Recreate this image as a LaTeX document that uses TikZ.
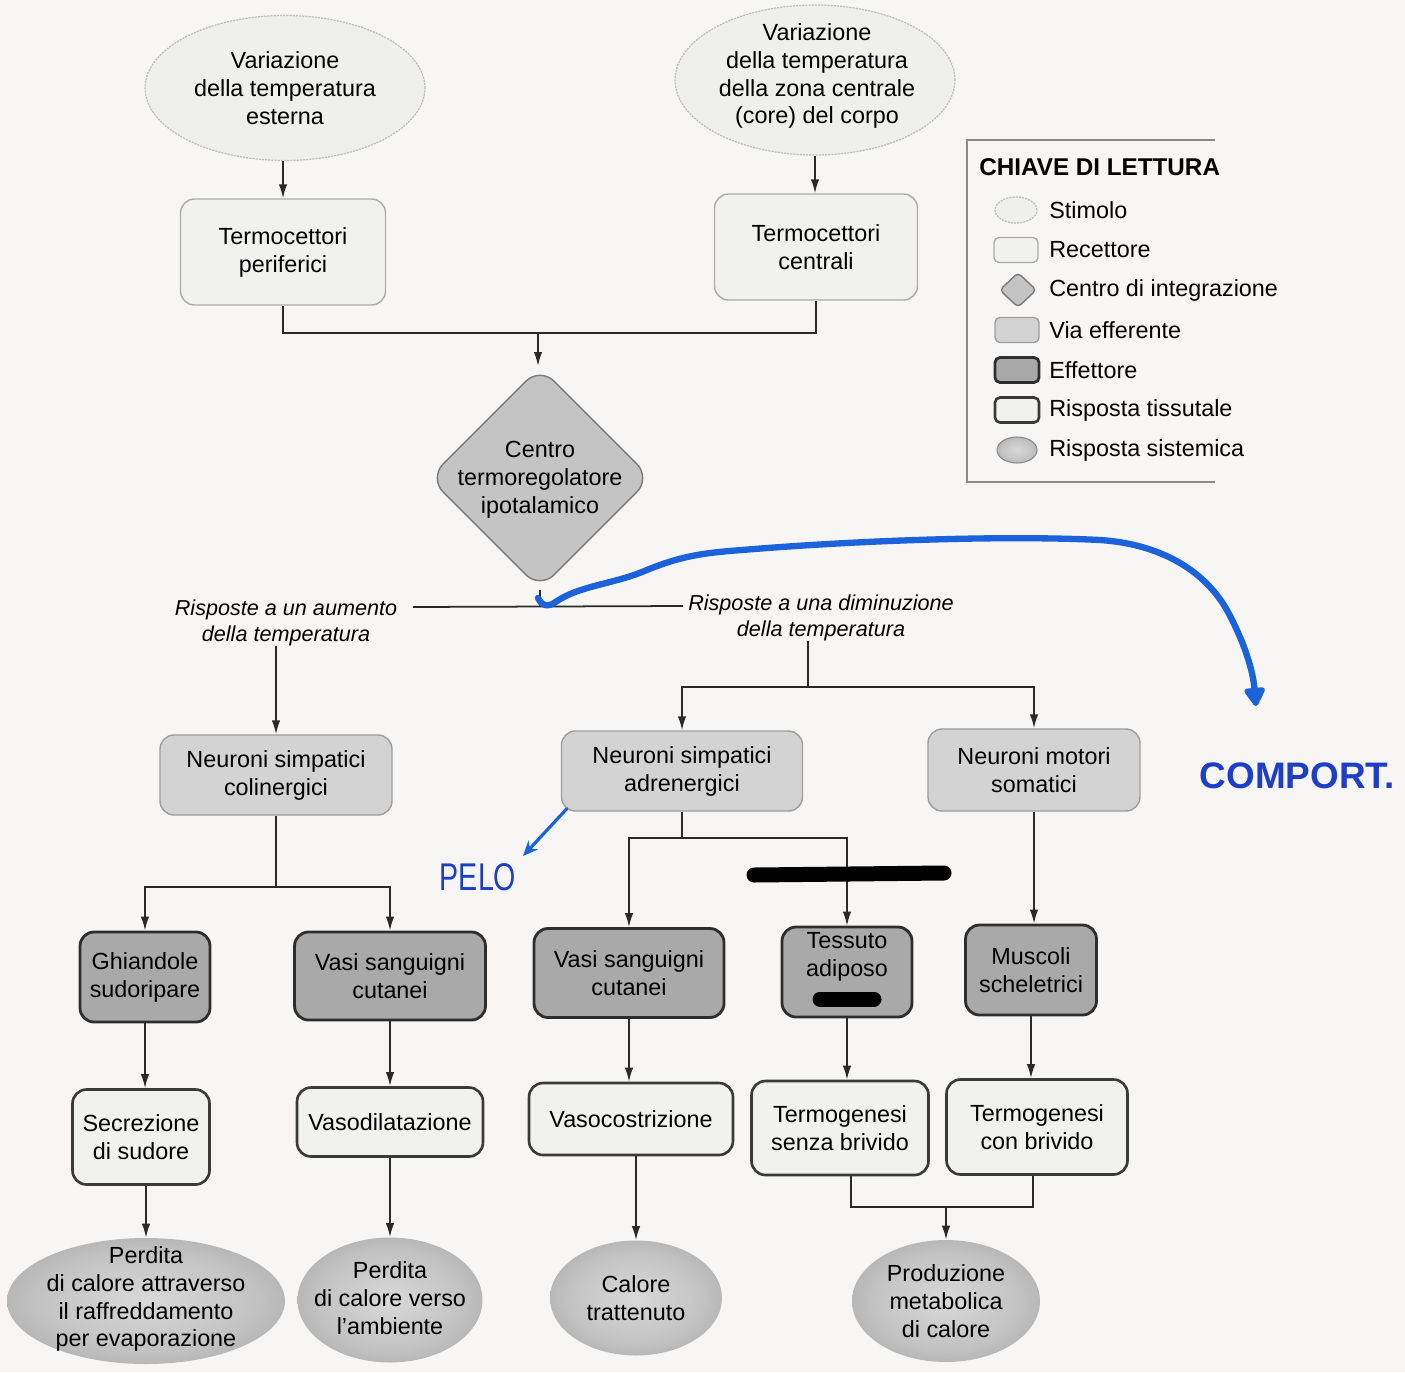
\documentclass[tikz,border=0pt]{standalone}
\usepackage{fontspec}
\setmainfont{Liberation Sans}
\usetikzlibrary{shapes.geometric,arrows.meta}
\definecolor{bgc}{HTML}{F7F6F4}
\definecolor{stimc}{HTML}{BDBDBD}
\definecolor{stimf}{HTML}{EFEFEE}
\definecolor{recc}{HTML}{ABABAB}
\definecolor{recf}{HTML}{F1F1F0}
\definecolor{centc}{HTML}{7A7A7A}
\definecolor{centf}{HTML}{C4C4C4}
\definecolor{viac}{HTML}{9E9E9E}
\definecolor{viaf}{HTML}{D3D3D3}
\definecolor{effc}{HTML}{2E2E2E}
\definecolor{efff}{HTML}{A9A9A9}
\definecolor{tisc}{HTML}{3A3A3A}
\definecolor{tisf}{HTML}{F1F1F0}
\definecolor{linec}{HTML}{2A2A2A}
\definecolor{keyc}{HTML}{8A8A8A}
\definecolor{bluepen}{HTML}{1C62DA}
\definecolor{blueink}{HTML}{1D3FC8}
\pgfdeclareradialshading{sistshade}{\pgfpoint{0bp}{0bp}}{rgb(0bp)=(.85,.85,.85); rgb(20bp)=(.76,.76,.76); rgb(40bp)=(.6,.6,.6); rgb(50bp)=(.48,.48,.48)}
\begin{document}
\begin{tikzpicture}[x=0.02cm,y=-0.02cm,
 font=\fontsize{13.3}{15.9}\selectfont,
 base/.style={align=center,inner sep=0pt,rounded corners=0.28cm},
 stim/.style={ellipse,draw=stimc,fill=stimf,line width=0.7pt,dash pattern=on 1.2pt off 0.6pt,inner sep=0pt},
 rec/.style={base,draw=recc,fill=recf,line width=0.8pt},
 cent/.style={diamond,draw=centc,fill=centf,line width=0.8pt,rounded corners=0.4cm,inner sep=0pt},
 via/.style={base,draw=viac,fill=viaf,line width=0.8pt},
 eff/.style={base,draw=effc,fill=efff,line width=1.6pt},
 tis/.style={base,draw=tisc,fill=tisf,line width=1.5pt},
 sist/.style={ellipse,draw=none,inner sep=0pt,shading=sistshade},
 txt/.style={align=center,inner sep=0pt},
 itl/.style={align=center,inner sep=0pt,font=\fontsize{12.3}{14.5}\selectfont\itshape},
 conn/.style={draw=linec,line width=1pt},
 arr/.style={conn,-{Latex[length=2.8mm,width=1.7mm]}},
 redact/.style={draw=black,line width=0.3cm,line cap=round},
 bluestroke/.style={draw=bluepen,line cap=round,line join=round},
]
\fill[bgc] (0,0) rectangle (1405,1372);
\useasboundingbox (0,0) rectangle (1405,1372);

% stimuli
\node[stim,minimum width=5.6cm,minimum height=2.9cm] (s1) at (285,88) {};
\node[txt] (s1t) at (285,88) {Variazione\\della temperatura\\esterna};
\node[stim,minimum width=5.6cm,minimum height=3.0cm] (s2) at (815,80) {};
\node[txt] (s2t) at (817,76) {Variazione\\della temperatura\\della zona centrale\\(core) del corpo};

% receptors
\node[rec,minimum width=4.1cm,minimum height=2.12cm] (r1) at (283,252) {Termocettori\\periferici};
\node[rec,minimum width=4.06cm,minimum height=2.12cm] (r2) at (816,247) {Termocettori\\centrali};

\draw[arr] (s1.south -| r1.north) -- (r1.north);
\draw[arr] (s2.south) -- (s2.south |- r2.north);

% integration centre
\coordinate (j1) at (538,333);
\draw[conn] (r1.south) |- (j1) -| (r2.south);
\node[cent,minimum width=4.45cm,minimum height=4.45cm] (cen) at (540,478) {};
\node[txt] (cent) at (540,480) {Centro\\termoregolatore\\ipotalamico};
\draw[arr] (j1) -- (j1 |- cen.north);

% split
\coordinate (hc) at (540,607);
\coordinate (hl) at (413,607);
\coordinate (hr) at (683,606);
\draw[conn] (cen.south) -- (hc);
\draw[conn] (hl) -- (hr);
\node[itl] (lbl1) at (286,623) {Risposte a un aumento\\della temperatura};
\node[itl] (lbl2) at (821,618) {Risposte a una diminuzione\\della temperatura};

% efferent pathways
\node[via,minimum width=4.64cm,minimum height=1.6cm] (col) at (276,775) {Neuroni simpatici\\colinergici};
\node[via,minimum width=4.82cm,minimum height=1.6cm] (adr) at (682,771) {Neuroni simpatici\\adrenergici};
\node[via,minimum width=4.24cm,minimum height=1.64cm] (mot) at (1034,770) {Neuroni motori\\somatici};

\draw[arr] (lbl1.south -| col.north) -- (col.north);
\coordinate (j2) at (808,687);
\draw[conn] (lbl2.south -| j2) -- (j2);
\draw[arr] (j2) -| (adr.north);
\draw[arr] (j2) -| (mot.north);

% effectors
\node[eff,minimum width=2.6cm,minimum height=1.8cm] (ghi) at (145,977) {Ghiandole\\sudoripare};
\node[eff,minimum width=3.82cm,minimum height=1.76cm] (vas1) at (390,976) {Vasi sanguigni\\cutanei};
\node[eff,minimum width=3.8cm,minimum height=1.78cm] (vas2) at (629,973) {Vasi sanguigni\\cutanei};
\node[eff,minimum width=2.6cm,minimum height=1.8cm] (tes) at (847,972) {};
\node[txt] (test) at (847,957) {Tessuto\\adiposo};
\node[eff,minimum width=2.62cm,minimum height=1.8cm] (mus) at (1031,970) {Muscoli\\scheletrici};

\coordinate (j3) at (276,887);
\draw[conn] (col.south) -- (j3);
\draw[arr] (j3) -| (ghi.north);
\draw[arr] (j3) -| (vas1.north);
\coordinate (j4) at (682,838);
\draw[conn] (adr.south) -- (j4);
\draw[arr] (j4) -| (vas2.north);
\draw[arr] (j4) -| (tes.north);
\draw[arr] (mot.south) -- (mot.south |- mus.north);

% tissue responses
\node[tis,minimum width=2.74cm,minimum height=1.9cm] (sec) at (141,1137) {Secrezione\\di sudore};
\node[tis,minimum width=3.72cm,minimum height=1.38cm] (vdil) at (390,1122) {Vasodilatazione};
\node[tis,minimum width=4.08cm,minimum height=1.44cm] (vcos) at (631,1119) {Vasocostrizione};
\node[tis,minimum width=3.54cm,minimum height=1.88cm] (tsb) at (840,1128) {Termogenesi\\senza brivido};
\node[tis,minimum width=3.62cm,minimum height=1.9cm] (tcb) at (1037,1127) {Termogenesi\\con brivido};

\draw[arr] (ghi.south) -- (ghi.south |- sec.north);
\draw[arr] (vas1.south) -- (vas1.south |- vdil.north);
\draw[arr] (vas2.south) -- (vas2.south |- vcos.north);
\draw[arr] (tes.south) -- (tes.south |- tsb.north);
\draw[arr] (mus.south) -- (mus.south |- tcb.north);

% systemic responses
\node[sist,minimum width=5.56cm,minimum height=2.52cm] (e1) at (146,1301) {};
\node[txt] (e1t) at (146,1299) {Perdita\\di calore attraverso\\il raffreddamento\\per evaporazione};
\node[sist,minimum width=3.7cm,minimum height=2.5cm] (e2) at (390,1300) {};
\node[txt] (e2t) at (390,1298) {Perdita\\di calore verso\\l'ambiente};
\node[sist,minimum width=3.44cm,minimum height=2.3cm] (e3) at (636,1298) {};
\node[txt] (e3t) at (636,1298) {Calore\\trattenuto};
\node[sist,minimum width=3.76cm,minimum height=2.44cm] (e4) at (946,1301) {};
\node[txt] (e4t) at (946,1301) {Produzione\\metabolica\\di calore};

\draw[arr] (sec.south -| e1.north) -- (e1.north);
\draw[arr] (vdil.south) -- (vdil.south |- e2.north);
\draw[arr] (vcos.south -| e3.north) -- (e3.north);
\coordinate (j5) at (946,1207);
\draw[conn] ([xshift=0.22cm]tsb.south) |- (j5) -| ([xshift=-0.08cm]tcb.south);
\draw[arr] (j5) -- (e4.north);

% redactions
\coordinate (ra) at (754,875);
\coordinate (rb) at (944,873);
\draw[redact] (ra) -- (rb);
\coordinate (rc) at (820,999);
\coordinate (rd) at (874,999);
\draw[redact] (rc) -- (rd);

% legend
\coordinate (kb1) at (1215,140);
\coordinate (kb2) at (967,140);
\coordinate (kb3) at (967,482);
\coordinate (kb4) at (1215,482);
\draw[draw=keyc,line width=1.4pt] (kb1) -- (kb2) -- (kb3) -- (kb4);
\node[anchor=west,inner sep=0pt,font=\fontsize{13.8}{16}\selectfont\bfseries] (ktitle) at (979,167) {CHIAVE DI LETTURA};
\node[stim,minimum width=0.84cm,minimum height=0.52cm] (k1) at (1016,210) {};
\node[anchor=west,inner sep=0pt] (k1t) at (1049,210) {Stimolo};
\node[rec,rounded corners=0.1cm,minimum width=0.88cm,minimum height=0.5cm] (k2) at (1016,250) {};
\node[anchor=west,inner sep=0pt] (k2t) at (1049,250) {Recettore};
\node[cent,rounded corners=0.08cm,minimum width=0.74cm,minimum height=0.7cm] (k3) at (1018,290) {};
\node[anchor=west,inner sep=0pt] (k3t) at (1049,290) {Centro di integrazione};
\node[via,rounded corners=0.1cm,minimum width=0.88cm,minimum height=0.5cm] (k4) at (1017,330) {};
\node[anchor=west,inner sep=0pt] (k4t) at (1049,330) {Via efferente};
\node[eff,rounded corners=0.1cm,minimum width=0.88cm,minimum height=0.5cm] (k5) at (1017,370) {};
\node[anchor=west,inner sep=0pt] (k5t) at (1049,370) {Effettore};
\node[tis,rounded corners=0.1cm,minimum width=0.88cm,minimum height=0.5cm] (k6) at (1017,410) {};
\node[anchor=west,inner sep=0pt] (k6t) at (1049,410) {Risposta tissutale};
\node[sist,draw=keyc,line width=0.6pt,minimum width=0.8cm,minimum height=0.52cm] (k7) at (1017,450) {};
\node[anchor=west,inner sep=0pt] (k7t) at (1049,450) {Risposta sistemica};

% blue handwritten annotations
\coordinate (bs) at (538,598);
\coordinate (be) at (1256,706);
\draw[bluestroke,line width=3.6pt,-{Triangle[round,length=4.2mm,width=4.6mm]}]
  (bs) .. controls (542,606) and (548,608) .. (557,601)
  .. controls (580,586) and (612,584) .. (642,572)
  .. controls (680,556) and (702,553) .. (742,550)
  .. controls (850,541) and (1000,535) .. (1100,540)
  .. controls (1160,544) and (1205,570) .. (1228,612)
  .. controls (1246,646) and (1253,672) .. (be);
\node[inner sep=0pt,text=blueink,font=\fontsize{21}{24}\selectfont\bfseries] (comp) at (1297,776) {COMPORT.};
\node[inner sep=0pt,text=blueink,font=\fontsize{22}{24}\selectfont] (pelo) at (478,877) {\scalebox{0.74}[1]{PELO}};
\coordinate (pa) at (523,856);
\draw[bluestroke,line width=1.8pt,-{Stealth[length=3mm,width=2.6mm]}] ([xshift=0.12cm,yshift=0.06cm]adr.south west) -- (pa);
\end{tikzpicture}
\end{document}
